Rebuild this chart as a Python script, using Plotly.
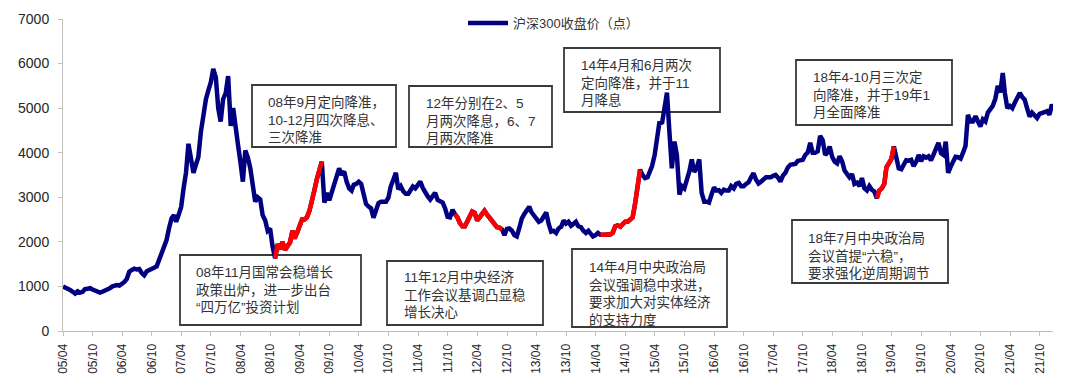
import calendar
import plotly.graph_objects as go

# ---------------- data (semi-monthly closes) ----------------
start_date = "2005-04-01"
start_value = 1000
# each list: (mid-month, month-end) pairs; 2005 starts in April
y2005 = [980, 960, 920, 880, 840, 890, 860, 880, 940, 950, 960, 930, 900, 880, 860, 880, 900, 920]
y2006 = [960, 1000, 1030, 1030, 1020, 1050, 1100, 1170, 1330, 1370, 1400, 1380,
         1390, 1300, 1250, 1340, 1360, 1400, 1420, 1450, 1580, 1720, 1860, 2040]
y2007 = [2300, 2530, 2600, 2450, 2600, 2780, 3200, 3550, 4200, 3900, 3550, 3730,
         3900, 4470, 4900, 5200, 5400, 5580, 5880, 5690, 5000, 4700, 5200, 5340]
y2008 = [5720, 4600, 5000, 4680, 4200, 3790, 3350, 4050, 3900, 3650, 3300, 2900,
         3000, 2950, 2600, 2480, 2250, 2300, 1900, 1630, 1950, 1830, 2000, 1820]
y2009 = [1900, 1990, 2250, 2080, 2200, 2370, 2500, 2500, 2550, 2700, 2900, 3150,
         3400, 3600, 3800, 2880, 3100, 2930, 3100, 3250, 3500, 3650, 3500, 3580]
y2010 = [3350, 3200, 3150, 3280, 3300, 3350, 3300, 3070, 2850, 2790, 2750, 2540,
         2700, 2870, 2900, 2900, 2900, 2990, 3250, 3400, 3550, 3180, 3250, 3130]
y2011 = [3080, 3080, 3150, 3240, 3200, 3300, 3350, 3210, 3100, 3020, 2950, 3040,
         3100, 2940, 2900, 2880, 2750, 2560, 2550, 2720, 2620, 2550, 2420, 2350]
y2012 = [2350, 2460, 2600, 2680, 2650, 2480, 2550, 2630, 2700, 2610, 2550, 2460,
         2400, 2330, 2320, 2280, 2150, 2290, 2300, 2250, 2150, 2120, 2300, 2520]
y2013 = [2620, 2690, 2790, 2670, 2600, 2500, 2450, 2480, 2570, 2660, 2400, 2230,
         2250, 2200, 2300, 2340, 2480, 2410, 2450, 2360, 2400, 2450, 2350, 2330]
y2014 = [2250, 2200, 2250, 2180, 2120, 2150, 2200, 2160, 2150, 2160, 2170, 2165,
         2200, 2350, 2370, 2340, 2400, 2450, 2450, 2510, 2550, 2850, 3250, 3620]
y2015 = [3500, 3430, 3450, 3570, 3700, 3950, 4300, 4700, 4650, 5100, 5350, 4470,
         3650, 4250, 3950, 3060, 3250, 3200, 3350, 3580, 3850, 3570, 3650, 3850]
y2016 = [3100, 2900, 2900, 2880, 3050, 3220, 3150, 3160, 3100, 3170, 3150, 3150,
         3250, 3200, 3300, 3320, 3250, 3250, 3300, 3340, 3450, 3540, 3400, 3310]
y2017 = [3350, 3390, 3450, 3450, 3450, 3480, 3500, 3440, 3350, 3490, 3550, 3670,
         3730, 3740, 3750, 3820, 3830, 3840, 3950, 4010, 4220, 4000, 4000, 4030]
y2018 = [4380, 4280, 3950, 4000, 4140, 3900, 3800, 3760, 3920, 3800, 3600, 3510,
         3450, 3520, 3300, 3330, 3250, 3430, 3200, 3150, 3250, 3170, 3130, 2980]
y2019 = [3150, 3200, 3300, 3670, 3750, 3860, 4140, 3910, 3650, 3630, 3750, 3830,
         3820, 3840, 3700, 3800, 3950, 3810, 3920, 3890, 3920, 3830, 3950, 4120]
y2020 = [4220, 3990, 3950, 4250, 3550, 3690, 3800, 3910, 3900, 3870, 4000, 4150,
         4850, 4700, 4700, 4820, 4700, 4590, 4750, 4700, 4900, 4980, 5050, 5210]
y2021 = [5500, 5350, 5790, 5340, 5000, 5050, 5000, 5120, 5250, 5340, 5250, 5190,
         5000, 4810, 4900, 4830, 4780, 4870, 4900, 4910, 4930, 4850, 5080, 4960]

year_series = [(2005, y2005), (2006, y2006), (2007, y2007), (2008, y2008), (2009, y2009),
               (2010, y2010), (2011, y2011), (2012, y2012), (2013, y2013), (2014, y2014),
               (2015, y2015), (2016, y2016), (2017, y2017), (2018, y2018), (2019, y2019),
               (2020, y2020), (2021, y2021)]

# periods of policy easing drawn in red
red_ranges = [("2008-10-31", "2009-08-15"),
              ("2011-11-15", "2012-08-31"),
              ("2014-04-30", "2014-12-31"),
              ("2018-12-31", "2019-04-15")]

tick_labels = ["05/04", "05/10", "06/04", "06/10", "07/04", "07/10", "08/04", "08/10",
               "09/04", "09/10", "10/04", "10/10", "11/04", "11/10", "12/04", "12/10",
               "13/04", "13/10", "14/04", "14/10", "15/04", "15/10", "16/04", "16/10",
               "17/04", "17/10", "18/04", "18/10", "19/04", "19/10", "20/04", "20/10",
               "21/04", "21/10"]
y_ticks = [0, 1000, 2000, 3000, 4000, 5000, 6000, 7000]
series_name = "沪深300收盘价（点）"

notes = [
    "08年9月定向降准，<br>10-12月四次降息、<br>三次降准",
    "08年11月国常会稳增长<br>政策出炉，进一步出台<br>“四万亿”投资计划",
    "12年分别在2、5<br>月两次降息，6、7<br>月两次降准",
    "11年12月中央经济<br>工作会议基调凸显稳<br>增长决心",
    "14年4月和6月两次<br>定向降准，并于11<br>月降息",
    "14年4月中央政治局<br>会议强调稳中求进，<br>要求加大对实体经济<br>的支持力度",
    "18年4-10月三次定<br>向降准，并于19年1<br>月全面降准",
    "18年7月中央政治局<br>会议首提“六稳”，<br>要求强化逆周期调节",
]

# ---------------- build series ----------------
dates = [start_date]
values = [start_value]
for year, vals in year_series:
    first_month = 4 if year == 2005 else 1
    for i, m in enumerate(range(first_month, 13)):
        last = calendar.monthrange(year, m)[1]
        dates += [f"{year}-{m:02d}-15", f"{year}-{m:02d}-{last:02d}"]
        values += vals[2 * i:2 * i + 2]

red_values = [v if any(s <= d <= e for s, e in red_ranges) else None
              for d, v in zip(dates, values)]

tick_vals = [f"20{t[:2]}-{t[3:]}-01" for t in tick_labels]

# ---------------- layout helpers (pixel -> paper) ----------------
W, H = 1080, 377
ML, MR, MT, MB = 63, 27, 19, 46
PW, PH = W - ML - MR, H - MT - MB


def px(x):
    return (x - ML) / PW


def py(y):
    return (H - MB - y) / PH


# box geometry: (left, top, right, bottom, text_left, text_center_y)
boxes = [
    (252, 85, 396, 147, 266, 120),
    (180, 255, 361, 325, 194, 290),
    (409, 86, 552, 147, 424, 121),
    (387, 261, 543, 325, 402, 295),
    (564, 48, 720, 112, 579, 82.5),
    (572, 249, 727, 327, 587, 294),
    (796, 60, 952, 125, 811, 95),
    (792, 220, 948, 283, 806, 255.5),
]

fig = go.Figure()
fig.add_trace(go.Scatter(x=dates, y=values, mode="lines", name=series_name,
                         line=dict(color="#000080", width=4.5)))
fig.add_trace(go.Scatter(x=dates, y=red_values, mode="lines", showlegend=False,
                         connectgaps=False, line=dict(color="#FF0000", width=4.5)))

shapes = []
annotations = []
for (l, t, r, b, tl, tc), txt in zip(boxes, notes):
    shapes.append(dict(type="rect", xref="paper", yref="paper",
                       x0=px(l), x1=px(r), y0=py(b), y1=py(t),
                       line=dict(color="#3a3a3a", width=1.8),
                       fillcolor="rgba(0,0,0,0)", layer="below"))
    annotations.append(dict(xref="paper", yref="paper", x=px(tl), y=py(tc),
                            xanchor="left", yanchor="middle", align="left",
                            text=txt, showarrow=False,
                            font=dict(family="Liberation Sans, Noto Sans CJK SC",
                                      size=13.5, color="#333333")))

fig.update_layout(
    width=W, height=H,
    margin=dict(l=ML, r=MR, t=MT, b=MB, pad=0, autoexpand=False),
    paper_bgcolor="white", plot_bgcolor="white",
    font=dict(family="Liberation Sans, Noto Sans CJK SC", color="#262626"),
    showlegend=True,
    legend=dict(orientation="h", x=px(463), y=py(23), xanchor="left", yanchor="middle",
                bgcolor="rgba(0,0,0,0)", font=dict(size=13, color="#333333"),
                itemwidth=40),
    shapes=shapes,
    annotations=annotations,
    xaxis=dict(type="date", range=["2005-04-01", "2021-12-22"], automargin=False,
               tickvals=tick_vals, ticktext=tick_labels, tickangle=-90,
               tickfont=dict(size=12, color="#262626"),
               showline=True, linecolor="#BFBFBF", linewidth=1,
               ticks="outside", ticklen=4, tickcolor="#BFBFBF",
               ticklabelstandoff=3,
               showgrid=False, zeroline=False),
    yaxis=dict(range=[0, 7000], tickvals=y_ticks, automargin=False,
               tickfont=dict(size=14, color="#262626"),
               showline=True, linecolor="#BFBFBF", linewidth=1,
               ticks="outside", ticklen=4, tickcolor="#BFBFBF",
               ticklabelstandoff=6,
               showgrid=False, zeroline=False),
)

fig.write_html("out.html", config={"displayModeBar": False},
               post_script="document.body.style.margin='0';document.body.style.overflow='hidden';")
